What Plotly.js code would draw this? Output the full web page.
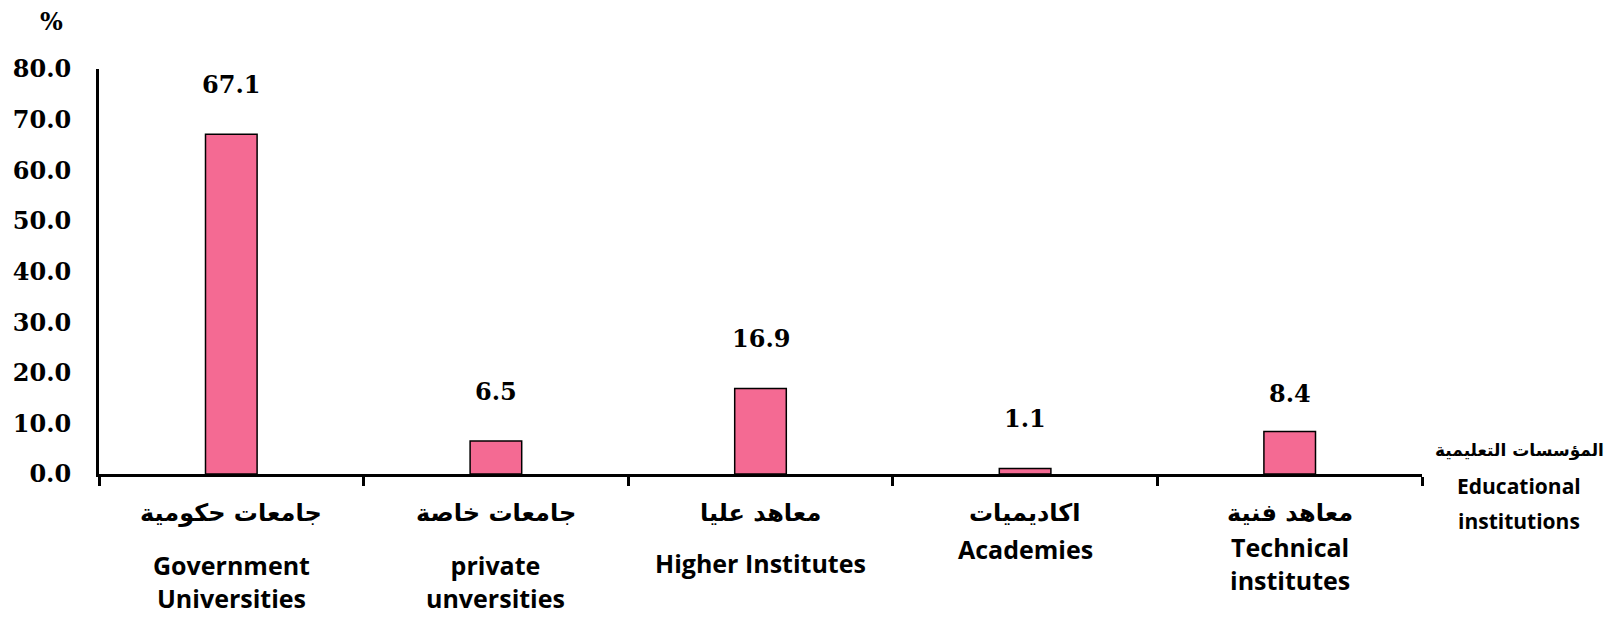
<!DOCTYPE html>
<html>
<head>
<meta charset="utf-8">
<script src="https://cdn.plot.ly/plotly-3.0.1.min.js"></script>
<style>html,body{margin:0;padding:0;background:#fff;}#chart{width:1615px;height:619px;}</style>
</head>
<body>
<div id="chart"></div>
<script>
// ---- data ----
var categories = ["Government Universities", "private unversities", "Higher Institutes", "Academies", "Technical institutes"];
var arabicLabels = ["جامعات حكومية", "جامعات خاصة", "معاهد عليا", "اكاديميات", "معاهد فنية"];
var englishLabels = ["Government<br>Universities", "private<br>unversities", "Higher Institutes", "Academies", "Technical<br>institutes"];
var values = [67.1, 6.5, 16.9, 1.1, 8.4];
var valueLabels = ["67.1", "6.5", "16.9", "1.1", "8.4"];
var yTickVals = [0, 10, 20, 30, 40, 50, 60, 70, 80];
var yTickText = ["0.0", "10.0", "20.0", "30.0", "40.0", "50.0", "60.0", "70.0", "80.0"];
var axisTitleArabic = "المؤسسات التعليمية";
var axisTitleEnglish = ["Educational", "institutions"];

// ---- style (label offsets in px) ----
var englishShift = [-107, -107, -89, -75, -89];
var valueShift = [50, 50, 50, 50, 38];

var serifBold = {family: "DejaVu Serif", size: 24, color: "#000", weight: 700};
var sansBold = {family: "Open Sans", size: 25, color: "#000", weight: 700};
var arabicFont = {family: "DejaVu Sans", size: 24, color: "#000", weight: 700};

var annotations = [];
for (var i = 0; i < categories.length; i++) {
  annotations.push({
    xref: "x", yref: "y", x: categories[i], y: values[i],
    text: "<b>" + valueLabels[i] + "</b>", showarrow: false,
    yanchor: "middle", yshift: valueShift[i], font: serifBold
  });
  annotations.push({
    xref: "x", yref: "paper", x: categories[i], y: 0,
    text: "<b>" + arabicLabels[i] + "</b>", showarrow: false,
    yanchor: "middle", yshift: -39, font: arabicFont
  });
  annotations.push({
    xref: "x", yref: "paper", x: categories[i], y: 0,
    text: "<b>" + englishLabels[i] + "</b>", showarrow: false,
    yanchor: "middle", yshift: englishShift[i], font: sansBold, borderpad: 0
  });
}
// y unit
annotations.push({
  xref: "paper", yref: "paper", x: 0, y: 1, xshift: -48, yshift: 48,
  text: "<b>%</b>", showarrow: false, xanchor: "center", yanchor: "middle", font: serifBold
});
// x axis title (right side)
annotations.push({
  xref: "paper", yref: "paper", x: 1, y: 0, xshift: 97, yshift: 24,
  text: "<b>" + axisTitleArabic + "</b>", showarrow: false, xanchor: "center", yanchor: "middle",
  font: {family: "DejaVu Sans", size: 17, color: "#000", weight: 700}
});
for (var j = 0; j < axisTitleEnglish.length; j++) {
  annotations.push({
    xref: "paper", yref: "paper", x: 1, y: 0, xshift: 97, yshift: -12 - 35 * j,
    text: "<b>" + axisTitleEnglish[j] + "</b>", showarrow: false, xanchor: "center", yanchor: "middle",
    font: {family: "Open Sans", size: 21, color: "#000", weight: 700}
  });
}

var trace = {
  type: "bar",
  x: categories,
  y: values,
  marker: {color: "#F46A93", line: {color: "#000", width: 1.5}},
  hoverinfo: "x+y"
};

var layout = {
  width: 1615, height: 619,
  margin: {l: 99, r: 193, t: 69, b: 145, pad: 0},
  paper_bgcolor: "#fff", plot_bgcolor: "#fff",
  showlegend: false,
  bargap: 0.805,
  xaxis: {
    type: "category",
    showticklabels: false,
    showline: true, linecolor: "#000", linewidth: 3,
    ticks: "outside", tickson: "boundaries", ticklen: 9, tickwidth: 3, tickcolor: "#000",
    showgrid: false, zeroline: false, fixedrange: true
  },
  yaxis: {
    range: [0, 80],
    tickvals: yTickVals, ticktext: yTickText,
    showline: true, linecolor: "#000", linewidth: 3,
    ticks: "outside", ticklen: 20, tickcolor: "rgba(0,0,0,0)",
    tickfont: serifBold,
    showgrid: false, zeroline: false, fixedrange: true
  },
  annotations: annotations
};

Plotly.newPlot("chart", [trace], layout, {displayModeBar: false, staticPlot: true});
</script>
</body>
</html>
